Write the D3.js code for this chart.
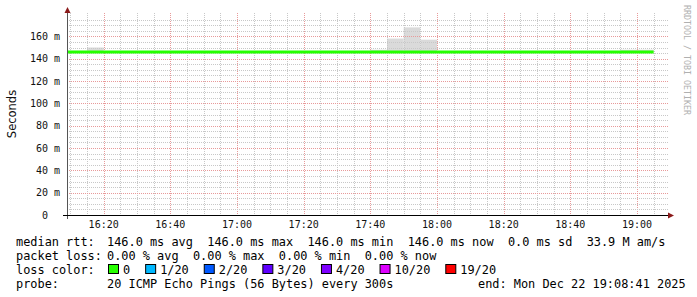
<!DOCTYPE html>
<html>
<head>
<meta charset="utf-8">
<script src="https://cdn.jsdelivr.net/npm/d3@7"></script>
<style>
  body { margin: 0; background: #fff; }
  text { font-family: "DejaVu Sans Mono", monospace; }
</style>
</head>
<body>
<script>
// 5 minute buckets (start time), median rtt and max ping in ms
var bucketStarts = ["16:05","16:10","16:15","16:20","16:25","16:30","16:35","16:40","16:45","16:50",
                    "16:55","17:00","17:05","17:10","17:15","17:20","17:25","17:30","17:35","17:40",
                    "17:45","17:50","17:55","18:00","18:05","18:10","18:15","18:20","18:25","18:30",
                    "18:35","18:40","18:45","18:50","18:55","19:00"];
var medianRtt = [146,146,146,146,146,146,146,146,146,146,
                 146,146,146,146,146,146,146,146,146,146,
                 146,146,146,146,146,146,146,146,146,146,
                 146,146,146,146,146,146];
var maxRtt    = [147,147,150,146,146,146,146,146,146,146,
                 146,146,146,146,146,146,146,146,146,148,
                 158,168,157,146,146,146,146,146,146,146,
                 146,146,146,146,148,148];
var yTicks = [0,20,40,60,80,100,120,140,160];

var lossLabels = ["0","1/20","2/20","3/20","4/20","10/20","19/20"];
var lossColors = ["#26ff00","#00b8ff","#0059ff","#5e00ff","#7e00ff","#dd00ff","#ff0000"];

var rttLegend  = "146.0 ms avg  146.0 ms max  146.0 ms min  146.0 ms now  0.0 ms sd  33.9 M am/s";
var lossLegend = "0.00 % avg  0.00 % max  0.00 % min  0.00 % now";
var probeText  = "20 ICMP Echo Pings (56 Bytes) every 300s";
var endText    = "end: Mon Dec 22 19:08:41 2025";

var parse = d3.utcParse("%Y-%m-%d %H:%M");
var day = "2025-12-22 ";

var plotLeft = 67, plotRight = 667, plotTop = 14, plotBottom = 215;

var x = d3.scaleUtc()
    .domain([parse(day + "16:09"), parse(day + "19:09")])
    .range([plotLeft, plotRight]);
var y = d3.scaleLinear()
    .domain([0, 180])
    .range([plotBottom, plotTop]);

var data = bucketStarts.map(function (t, i) {
    var s = parse(day + t);
    return { start: s, end: d3.utcMinute.offset(s, 5), med: medianRtt[i], max: maxRtt[i] };
});

var svg = d3.select("body").append("svg")
    .attr("width", 697)
    .attr("height", 297);

svg.append("defs").append("clipPath").attr("id", "plot")
    .append("rect")
    .attr("x", plotLeft).attr("y", plotTop - 1)
    .attr("width", plotRight - plotLeft).attr("height", plotBottom - plotTop + 1);

// smoke
svg.append("g").attr("clip-path", "url(#plot)")
    .selectAll("rect")
    .data(data.filter(function (d) { return d.max > d.med; }))
    .enter()
    .append("rect")
    .attr("x", function (d) { return x(d.start); })
    .attr("width", function (d) { return x(d.end) - x(d.start); })
    .attr("y", function (d) { return y(d.max); })
    .attr("height", function (d) { return y(d.med) - y(d.max); })
    .style("fill", "#dadada");

// grid
var grid = svg.append("g");
var minorX = x.ticks(d3.utcMinute.every(5));
var majorX = x.ticks(d3.utcMinute.every(20));
var isMajorX = function (d) { return d.getUTCMinutes() % 20 == 0; };

grid.selectAll(".vx")
    .data(minorX)
    .enter()
    .append("line")
    .attr("x1", function (d) { return Math.round(x(d)) + 0.5; })
    .attr("x2", function (d) { return Math.round(x(d)) + 0.5; })
    .attr("y1", 13)
    .attr("y2", plotBottom)
    .style("stroke", function (d) { return isMajorX(d) ? "#e89a9a" : "#c8c8c8"; })
    .style("stroke-dasharray", "1,1");

var minorY = d3.range(5, 180, 5);
grid.selectAll(".hy")
    .data(minorY)
    .enter()
    .append("line")
    .attr("x1", plotLeft)
    .attr("x2", 669)
    .attr("y1", function (d) { return Math.round(y(d)) + 0.5; })
    .attr("y2", function (d) { return Math.round(y(d)) + 0.5; })
    .style("stroke", function (d) { return d % 20 == 0 ? "#e89a9a" : "#c8c8c8"; })
    .style("stroke-dasharray", "1,1");

// median line
var line = d3.line()
    .x(function (d) { return x(d[0]); })
    .y(function (d) { return y(d[1]); });
var pts = [];
data.forEach(function (d) { pts.push([d.start, d.med]); pts.push([d.end, d.med]); });
svg.append("path")
    .attr("clip-path", "url(#plot)")
    .attr("d", line(pts))
    .style("fill", "none")
    .style("stroke", lossColors[0])
    .style("stroke-width", 3);

// axes
svg.append("line")
    .attr("x1", plotLeft + 0.5).attr("x2", plotLeft + 0.5)
    .attr("y1", 11).attr("y2", 219)
    .style("stroke", "#555");
svg.append("line")
    .attr("x1", 63).attr("x2", 670)
    .attr("y1", plotBottom + 0.5).attr("y2", plotBottom + 0.5)
    .style("stroke", "#000");
svg.append("path")
    .attr("d", "M" + (plotLeft + 0.5) + ",7 L" + (plotLeft + 3.5) + ",13 L" + (plotLeft - 2.5) + ",13 Z")
    .style("fill", "#8b1a1a");
svg.append("path")
    .attr("d", "M674," + (plotBottom + 0.5) + " L668," + (plotBottom - 2.5) + " L668," + (plotBottom + 3.5) + " Z")
    .style("fill", "#8b1a1a");

// y labels
svg.selectAll(".yl")
    .data(yTicks)
    .enter()
    .append("text")
    .attr("x", function (d) { return d == 0 ? 48 : 60; })
    .attr("y", function (d) { return y(d); })
    .attr("dy", "0.36em")
    .attr("text-anchor", "end")
    .style("font-size", "10px")
    .style("fill", "#111")
    .text(function (d) { return d == 0 ? "0" : d + " m"; });

// x labels
svg.selectAll(".xl")
    .data(majorX)
    .enter()
    .append("text")
    .attr("x", function (d) { return x(d); })
    .attr("y", 228)
    .attr("text-anchor", "middle")
    .style("font-size", "10px")
    .style("fill", "#111")
    .text(d3.utcFormat("%H:%M"));

// axis title
svg.append("text")
    .attr("transform", "translate(16,114) rotate(-90)")
    .attr("text-anchor", "middle")
    .style("font-family", "'DejaVu Sans', sans-serif")
    .style("font-size", "11.5px")
    .style("fill", "#111")
    .text("Seconds");

// watermark
svg.append("text")
    .attr("transform", "translate(684,5) rotate(90)")
    .style("font-size", "8.3px")
    .style("fill", "#b0b0b0")
    .text("RRDTOOL / TOBI OETIKER");

// legend
var fs = "11.9px", cw = 7.15;
var legend = svg.append("g").style("font-size", fs).style("fill", "#000");
var rows = [
    ["median rtt:", rttLegend, 245.5],
    ["packet loss:", lossLegend, 259.5],
    ["loss color:", "", 273.5],
    ["probe:", probeText, 287.5]
];
rows.forEach(function (r) {
    legend.append("text").attr("x", 16).attr("y", r[2]).text(r[0]);
    if (r[1]) legend.append("text").attr("x", 107).attr("y", r[2])
        .attr("xml:space", "preserve").style("white-space", "pre").text(r[1]);
});
legend.append("text").attr("x", 478).attr("y", 287.5).text(endText);

var bx = 108;
lossLabels.forEach(function (l, i) {
    legend.append("rect")
        .attr("x", bx + 0.5).attr("y", 264.5)
        .attr("width", 10).attr("height", 9)
        .style("fill", lossColors[i])
        .style("stroke", "#000");
    legend.append("text").attr("x", bx + 15).attr("y", 273.5).text(l);
    bx = bx + 15 + l.length * cw + 15;
});
</script>
</body>
</html>
